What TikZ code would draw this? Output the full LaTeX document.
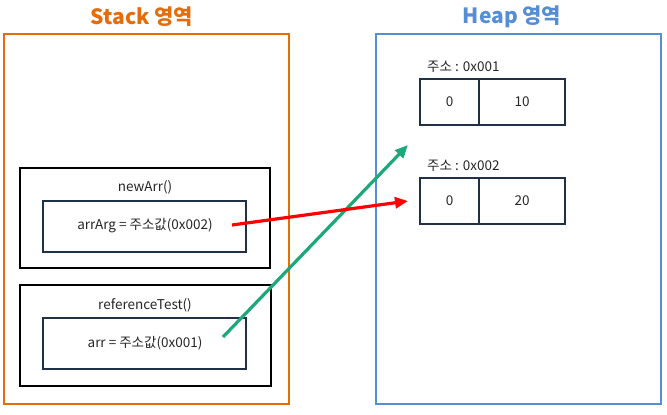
\documentclass[tikz,border=0pt]{standalone}
\usepackage{fontspec}
\setmainfont{Noto Sans CJK KR}
\usetikzlibrary{arrows.meta}
\definecolor{stackc}{RGB}{228,108,10}
\definecolor{heapc}{RGB}{85,142,213}
\definecolor{navy}{RGB}{31,48,71}
\definecolor{arrred}{RGB}{255,0,0}
\definecolor{arrgreen}{RGB}{28,168,120}
\tikzset{
  area/.style={draw, line width=2.4pt},
  frame/.style={draw=black, line width=1.6pt},
  cell/.style={draw=navy, line width=1.6pt},
  txt/.style={font=\fontsize{13.5}{16}\selectfont, text=black!85, inner sep=0pt},
  title/.style={font=\bfseries\fontsize{21}{24}\selectfont, inner sep=0pt},
  ptr/.style={line width=3.2pt, -{Triangle[length=13pt,width=11pt]}},
}
\begin{document}
\begin{tikzpicture}[x=1pt,y=-1pt]
\useasboundingbox (0,0) rectangle (667,415);
% areas
\draw[area, stackc] (4,34) rectangle (289,404);
\draw[area, heapc] (376,34) rectangle (661,404);
\node[title, text=stackc] (st) at (142,17) {Stack 영역};
\node[title, text=heapc] (ht) at (512,17) {Heap 영역};
% newArr frame
\draw[frame] (20,168) rectangle (270,268);
\node[txt] (nat) at (145,187) {newArr()};
\draw[cell] (43,201) rectangle (246,252);
\node[txt] (na) at (145,226) {arrArg = 주소값(0x002)};
\coordinate (redS) at (232,225);
% referenceTest frame
\draw[frame] (20,285) rectangle (271,386);
\node[txt] (rtt) at (145,305) {referenceTest()};
\draw[cell] (43,318) rectangle (246,369);
\node[txt] (rt) at (145,343) {arr = 주소값(0x001)};
\coordinate (greenS) at (223,337);
% heap cells
\node[txt, anchor=west] (l1) at (427,67) {주소 : 0x001};
\draw[cell] (420,79) rectangle (565,125);
\draw[cell] (479,79) -- (479,125);
\node[txt] (c10) at (449.5,102) {0};
\node[txt] (c11) at (522,102) {10};
\node[txt, anchor=west] (l2) at (427,166) {주소 : 0x002};
\draw[cell] (420,178) rectangle (565,224);
\draw[cell] (479,178) -- (479,224);
\node[txt] (c20) at (449.5,201) {0};
\node[txt] (c21) at (522,201) {20};
\coordinate (redE) at (408,201);
\coordinate (greenE) at (408,145);
% pointers
\draw[ptr, arrgreen] (greenS) -- (greenE);
\draw[ptr, arrred] (redS) -- (redE);
\end{tikzpicture}
\end{document}
